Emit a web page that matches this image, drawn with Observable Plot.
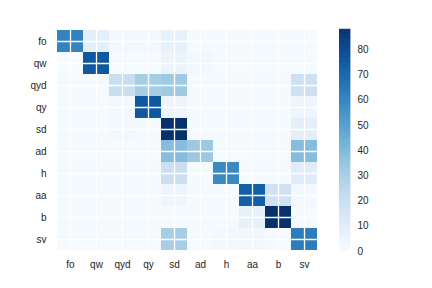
<!DOCTYPE html>
<html>
<head>
<meta charset="utf-8">
<script src="https://cdn.jsdelivr.net/npm/d3@7"></script>
<script src="https://cdn.jsdelivr.net/npm/@observablehq/plot@0.6"></script>
<style>
  html, body { margin: 0; padding: 0; background: white; }
  #wrap { position: relative; width: 432px; height: 288px; overflow: hidden; }
  #wrap svg { position: absolute; top: 0; }
</style>
</head>
<body>
<div id="wrap"></div>
<script>
const xLabels = ["fo", "qw", "qyd", "qy", "sd", "ad", "h", "aa", "b", "sv"];
const yLabels = ["fo", "qw", "qyd", "qy", "sd", "ad", "h", "aa", "b", "sv"];
// rows follow yLabels, columns follow xLabels
const rowFo  = [60, 8, 2, 2, 7, 1, 1, 1, 1, 1];
const rowQw  = [0, 75, 1, 1, 5, 3, 1, 1, 1, 1];
const rowQyd = [1, 1, 20, 30, 32, 1, 1, 1, 1, 18];
const rowQy  = [1, 1, 2, 75, 4, 1, 1, 1, 1, 4];
const rowSd  = [1, 1, 2, 1, 88, 1, 1, 1, 1, 8];
const rowAd  = [1, 1, 1, 1, 38, 33, 1, 1, 1, 38];
const rowH   = [1, 1, 1, 1, 19, 1, 58, 1, 1, 10];
const rowAa  = [1, 1, 1, 1, 4, 1, 1, 72, 17, 2];
const rowB   = [1, 1, 1, 1, 1, 1, 1, 7, 88, 1];
const rowSv  = [1, 1, 1, 1, 30, 1, 2, 3, 1, 62];
const rows = [rowFo, rowQw, rowQyd, rowQy, rowSd, rowAd, rowH, rowAa, rowB, rowSv];
const colorTicks = [0, 10, 20, 30, 40, 50, 60, 70, 80];
const colorMax = 88;

const data = rows.flatMap((r, i) => r.map((v, j) => ({row: yLabels[i], col: xLabels[j], value: v})));

const font = {fontFamily: "'Liberation Sans', Arial, sans-serif", fontSize: "10px", color: "#262626", background: "transparent"};
const color = {type: "linear", scheme: "blues", domain: [0, colorMax]};

const main = Plot.plot({
  width: 432, height: 288,
  marginLeft: 53, marginRight: 111, marginTop: 29, marginBottom: 37,
  style: font,
  x: {domain: xLabels, label: null, tickSize: 0, tickPadding: 9, padding: 0},
  y: {domain: yLabels, label: null, tickSize: 0, tickPadding: 7, padding: 0},
  color,
  marks: [
    Plot.cell(data, {x: "col", y: "row", fill: "value", inset: 0, shapeRendering: "crispEdges"}),
    Plot.ruleX(xLabels, {x: d => d, stroke: "white", strokeWidth: 1.3}),
    Plot.ruleY(yLabels, {y: d => d, stroke: "white", strokeWidth: 1.3})
  ]
});
main.style.left = "0px";

const stops = d3.range(0, colorMax, 0.25);
const bar = Plot.plot({
  width: 50, height: 288,
  marginLeft: 0, marginRight: 39, marginTop: 29, marginBottom: 37,
  style: font,
  x: {domain: [0, 1], axis: null},
  y: {domain: [0, colorMax], axis: "right", ticks: colorTicks, tickSize: 0, tickPadding: 7, label: null},
  color,
  marks: [
    Plot.rect(stops, {x1: 0, x2: 1, y1: d => d, y2: d => d + 0.25, fill: d => d, stroke: d => d, strokeWidth: 0.5})
  ]
});
bar.style.left = "339px";

const wrap = document.getElementById("wrap");
wrap.appendChild(main);
wrap.appendChild(bar);
</script>
</body>
</html>
